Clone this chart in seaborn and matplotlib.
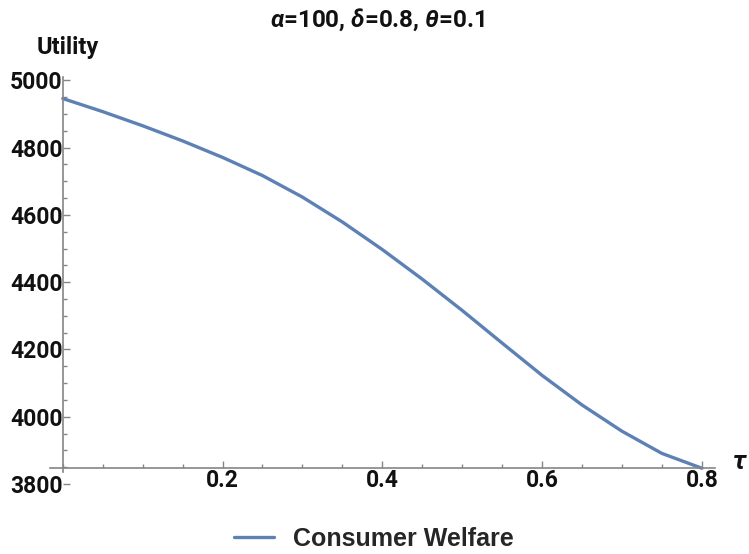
import matplotlib
matplotlib.use("Agg")
import matplotlib.pyplot as plt
from matplotlib.ticker import MultipleLocator
from matplotlib.lines import Line2D
import seaborn as sns

# Consumer welfare as a function of the tax rate tau
tau = [0.00, 0.05, 0.10, 0.15, 0.20, 0.25, 0.30, 0.35, 0.40,
       0.45, 0.50, 0.55, 0.60, 0.65, 0.70, 0.75, 0.80]
welfare = [4946, 4907, 4865, 4820, 4771, 4717, 4653, 4579, 4497,
           4409, 4316, 4219, 4123, 4035, 3957, 3891, 3847]

x_ticks = [0.2, 0.4, 0.6, 0.8]
x_tick_labels = ["0.2", "0.4", "0.6", "0.8"]
y_ticks = [3800, 4000, 4200, 4400, 4600, 4800, 5000]
y_tick_labels = ["3800", "4000", "4200", "4400", "4600", "4800", "5000"]

series_name = "Consumer Welfare"
title_text = r"$\alpha$=100, $\delta$=0.8, $\theta$=0.1"

sns.set_style("white")
plt.rcParams["font.family"] = ["Roboto", "DejaVu Sans"]
plt.rcParams["font.weight"] = "bold"
plt.rcParams["mathtext.fontset"] = "custom"
plt.rcParams["mathtext.it"] = "Roboto:italic:bold"
plt.rcParams["mathtext.rm"] = "Roboto:bold"

line_color = "#5E81B5"
axis_color = "#858585"
text_color = "#111111"

fig = plt.figure(figsize=(7.49, 5.54), dpi=100)
ax = fig.add_axes([0.06676, 0.12022, 0.8879, 0.7408])

sns.lineplot(x=tau, y=welfare, ax=ax, color=line_color, linewidth=2.4,
             legend=False)

ax.set_xlim(-0.016, 0.8165)
ax.set_ylim(3790, 5010)

# Axes cross at the lower end of the curve, Mathematica style
ax.spines["top"].set_visible(False)
ax.spines["right"].set_visible(False)
ax.spines["left"].set_position(("data", 0))
ax.spines["bottom"].set_position(("data", 3847.5))
ax.spines["left"].set_bounds(3836, 5010)
for s in ("left", "bottom"):
    ax.spines[s].set_color(axis_color)
    ax.spines[s].set_linewidth(1.2)

ax.set_xticks(x_ticks, x_tick_labels)
ax.set_yticks(y_ticks, y_tick_labels)
ax.xaxis.set_minor_locator(MultipleLocator(0.05))
ax.yaxis.set_minor_locator(MultipleLocator(50))
ax.tick_params(which="both", direction="in", color=axis_color, width=1.0,
               bottom=True, left=True, top=False, right=False,
               labelsize=16.5, labelcolor=text_color)
ax.tick_params(which="major", length=5.3)
ax.tick_params(which="minor", length=2.6)
ax.tick_params(axis="x", pad=0.5)
ax.tick_params(axis="y", pad=0.3)
for lab in ax.get_xticklabels() + ax.get_yticklabels():
    lab.set_fontweight("bold")

ax.set_ylabel("Utility", rotation=0, fontsize=17, fontweight="bold",
              ha="center", va="center", color=text_color)
ax.yaxis.set_label_coords(0.0271, 1.0707)
ax.set_xlabel(r"$\tau$", fontsize=19, ha="center", va="center",
              color=text_color)
ax.xaxis.set_label_coords(1.0376, 0.0619)

fig.text(377 / 749, 1 - 20 / 554, title_text, ha="center", va="center",
         fontsize=17.5, fontweight="bold", color=text_color)

handle = Line2D([], [], color=line_color, linewidth=2.4)
fig.legend([handle], [series_name], loc="center",
           bbox_to_anchor=(374 / 749, 1 - 539 / 554), frameon=False,
           handlelength=1.6, handletextpad=0.75,
           prop={"family": ["Liberation Sans", "DejaVu Sans"],
                 "weight": "bold", "size": 18})

fig.savefig("out.png", dpi=100)
